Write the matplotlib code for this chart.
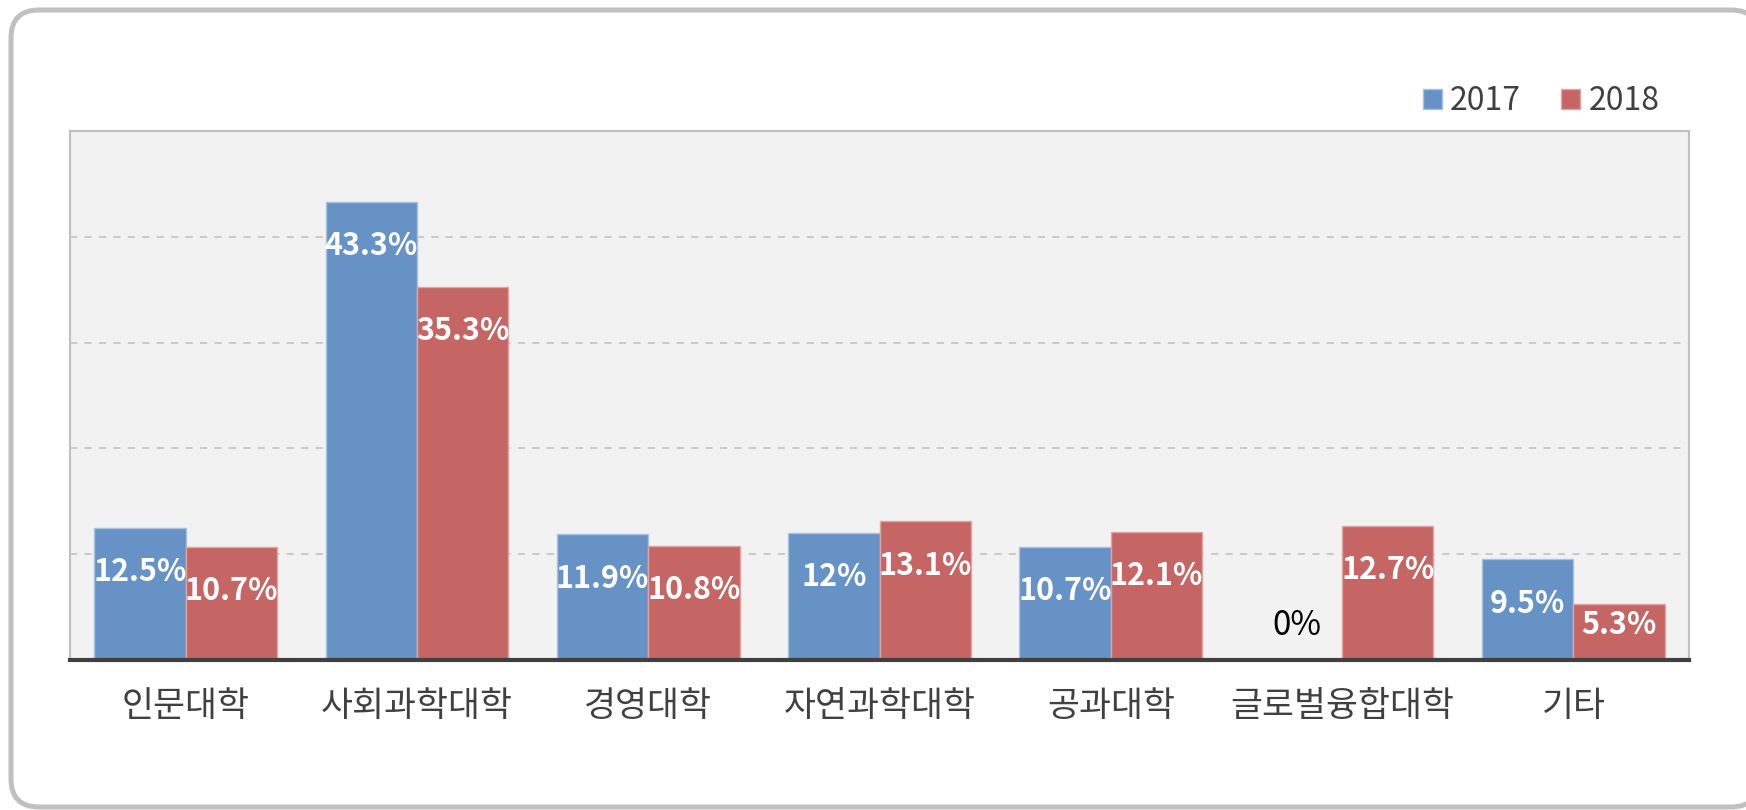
import matplotlib.pyplot as plt
from matplotlib.patches import FancyBboxPatch, Patch

plt.rcParams["font.family"] = ["Noto Sans CJK KR", "DejaVu Sans"]

categories = ["인문대학", "사회과학대학", "경영대학", "자연과학대학", "공과대학", "글로벌융합대학", "기타"]
series_names = ["2017", "2018"]
values_2017 = [12.5, 43.3, 11.9, 12, 10.7, 0, 9.5]
values_2018 = [10.7, 35.3, 10.8, 13.1, 12.1, 12.7, 5.3]

BLUE = "#6792c6"
BLUE_EDGE = "#a8c2e2"
RED = "#c66664"
RED_EDGE = "#e0a4a3"
TEXT = "#404040"

fig = plt.figure(figsize=(17.46, 8.10), dpi=100)
ax = fig.add_axes([0.0401, 0.1852, 0.9273, 0.6531])

# rounded outer frame (pixel coordinates), right side runs just off the canvas
frame = FancyBboxPatch(
    (11, 3), 1748, 797,
    boxstyle="round,pad=0,rounding_size=28",
    transform=None, facecolor="white", edgecolor="#c0c0c0",
    linewidth=3.6, zorder=-10,
)
fig.patches.append(frame)

x = list(range(len(categories)))
w = 0.395
bars1 = ax.bar([i - w / 2 for i in x], values_2017, width=w, color=BLUE,
               edgecolor=BLUE_EDGE, linewidth=1, zorder=3)
bars2 = ax.bar([i + w / 2 for i in x], values_2018, width=w, color=RED,
               edgecolor=RED_EDGE, linewidth=1, zorder=3)

# labels sit inside the bar end, but never lower than a minimum height
for bars, vals in ((bars1, values_2017), (bars2, values_2018)):
    for b, v in zip(bars, vals):
        cx = b.get_x() + b.get_width() / 2
        if v == 0:
            ax.text(cx, 3.3, f"{v:g}%", ha="center", va="center",
                    fontsize=24, color="black", zorder=5)
        else:
            ax.text(cx, max(v - 4.2, 3.3), f"{v:g}%", ha="center", va="center",
                    fontsize=22, color="white", fontweight="bold", zorder=5)

ax.set_xlim(-0.5, len(categories) - 0.5)
ax.set_ylim(0, 50)
ax.set_facecolor("#f2f2f2")
ax.set_yticks([10, 20, 30, 40])
ax.set_yticklabels([])
ax.yaxis.grid(True, color="#c6c6c6", linestyle=(0, (4, 4)), linewidth=1.3, zorder=0)
ax.tick_params(axis="y", length=0)
ax.set_xticks(x)
ax.set_xticklabels(categories, fontsize=25, color=TEXT)
ax.tick_params(axis="x", length=0, pad=21)

for side in ("left", "top", "right"):
    ax.spines[side].set_color("#bfbfbf")
    ax.spines[side].set_linewidth(1.5)
ax.spines["bottom"].set_color("#404040")
ax.spines["bottom"].set_linewidth(3)
ax.spines["bottom"].set_zorder(6)

handles = [Patch(facecolor=BLUE, edgecolor=BLUE_EDGE), Patch(facecolor=RED, edgecolor=RED_EDGE)]
leg = fig.legend(handles, series_names, loc="center right", bbox_to_anchor=(0.9595, 0.875),
                 ncol=2, frameon=False, fontsize=23, handlelength=0.6, handleheight=0.6,
                 handletextpad=0.25, columnspacing=1.25, borderpad=0)
for t in leg.get_texts():
    t.set_color(TEXT)

fig.savefig("out.png", dpi=100)
